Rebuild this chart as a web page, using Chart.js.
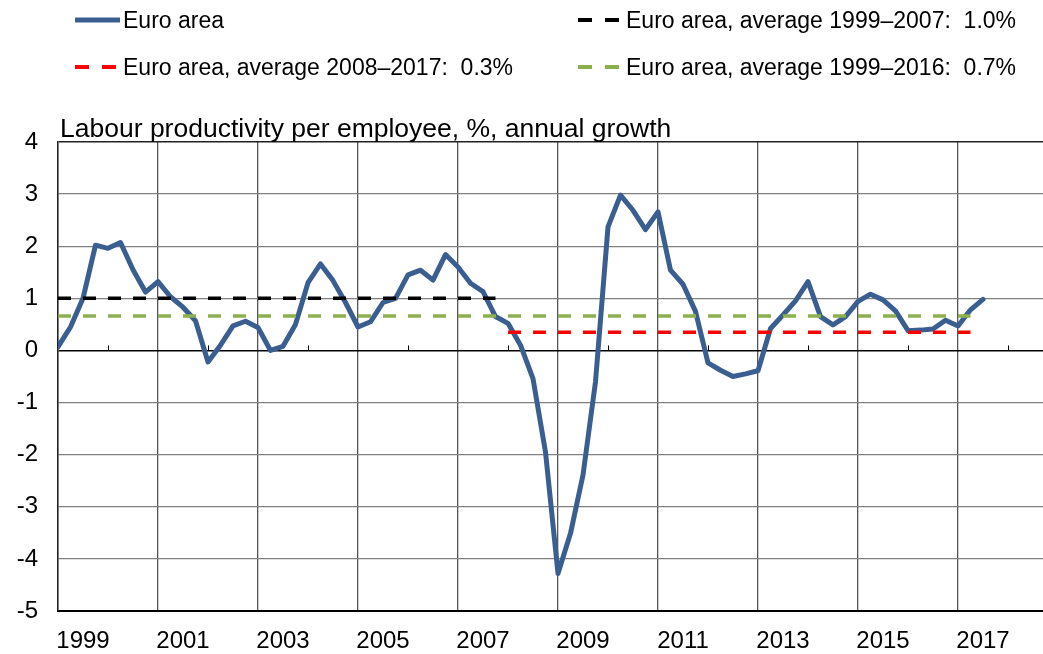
<!DOCTYPE html>
<html>
<head>
<meta charset="utf-8">
<title>Labour productivity per employee</title>
<script src="https://cdn.jsdelivr.net/npm/chart.js@4.4.1/dist/chart.umd.min.js"></script>
<style>
	html, body { margin: 0; padding: 0; background: #fff; }
	#wrap { position: relative; width: 1043px; height: 654px; font-family: "Liberation Sans", Arial, sans-serif; }
	#chart { position: absolute; left: 0; top: 0; }
	#legend { position: absolute; left: 75px; top: 6px; display: grid; grid-template-columns: 503px auto; grid-auto-rows: 28px; row-gap: 19px; }
	.item { display: flex; align-items: center; font-size: 23px; color: #000; white-space: pre; }
	.item svg { margin-right: 3px; }
</style>
</head>
<body>
<div id="wrap">
	<canvas id="chart" width="1043" height="654"></canvas>
	<div id="legend"></div>
</div>
<script>
// 제목, 축 라벨
const chartTitle = 'Labour productivity per employee, %, annual growth';
const yearLabels = ['1999', '2001', '2003', '2005', '2007', '2009', '2011', '2013', '2015', '2017'];
const firstYear = 1999;

// 분기별 유로 지역 노동생산성 증가율 (1999Q1 ~ 2017Q3)
const euroArea = [
	0.07, 0.45, 1.0, 2.02, 1.96, 2.07, 1.55, 1.12,
	1.32, 1.03, 0.83, 0.57, -0.22, 0.1, 0.47, 0.56,
	0.44, 0.0, 0.08, 0.5, 1.3, 1.66, 1.34, 0.92,
	0.45, 0.55, 0.92, 1.0, 1.45, 1.54, 1.35, 1.84,
	1.6, 1.29, 1.13, 0.65, 0.52, 0.1, -0.54, -1.95,
	-4.28, -3.51, -2.39, -0.6, 2.37, 2.98, 2.69, 2.32,
	2.66, 1.54, 1.27, 0.75, -0.24, -0.38, -0.5, -0.45,
	-0.39, 0.42, 0.68, 0.95, 1.32, 0.65, 0.49, 0.65,
	0.94, 1.08, 0.97, 0.76, 0.38, 0.39, 0.41, 0.58,
	0.47, 0.78, 0.98
];

// 기간 평균선
const avgLabels = ['Euro area, average 1999–2007:  1.0%', 'Euro area, average 2008–2017:  0.3%', 'Euro area, average 1999–2016:  0.7%'];
const avgValues = [1.0, 0.35, 0.66];
const avgFrom = ['1999Q1', '2008Q1', '1999Q1'];
const avgTo = ['2007Q4', '2017Q2', '2017Q2'];
const avgColors = ['#000000', '#FF0000', '#8CB04E'];

function quarterIndex(q) {
	const [y, n] = q.split('Q').map(Number);
	return (y - firstYear) * 4 + (n - 1);
}

const datasets = [
	{
		label: 'Euro area',
		data: euroArea.map((v, i) => ({ x: i, y: v })),
		borderColor: '#3B5E91',
		backgroundColor: '#3B5E91',
		borderWidth: 5,
		borderJoinStyle: 'round',
		borderCapStyle: 'round',
		order: 5
	}
];
avgValues.forEach((v, k) => {
	datasets.push({
		label: avgLabels[k],
		data: [{ x: quarterIndex(avgFrom[k]), y: v }, { x: quarterIndex(avgTo[k]), y: v }],
		borderColor: avgColors[k],
		backgroundColor: avgColors[k],
		borderWidth: 3.5,
		borderDash: [13, 12],
		order: 3 - k
	});
});

// 0 선 위 작은 눈금 + 제목
const decor = {
	id: 'decor',
	beforeDatasetsDraw(chart) {
		const { ctx, scales: { x, y } } = chart;
		const y0 = y.getPixelForValue(0);
		ctx.save();
		ctx.strokeStyle = '#000';
		ctx.lineWidth = 1;
		x.ticks.forEach(t => {
			if (t.value % 8 === 4) {
				const px = Math.round(x.getPixelForValue(t.value)) + 0.5;
				ctx.beginPath();
				ctx.moveTo(px, y0);
				ctx.lineTo(px, y0 - 5);
				ctx.stroke();
			}
		});
		ctx.restore();
	},
	afterDraw(chart) {
		const { ctx, chartArea } = chart;
		ctx.save();
		ctx.font = '26.5px "Liberation Sans", Arial, sans-serif';
		ctx.fillStyle = '#000';
		ctx.textAlign = 'left';
		ctx.textBaseline = 'alphabetic';
		ctx.fillText(chartTitle, chartArea.left + 2, chartArea.top - 5);
		ctx.restore();
	}
};

Chart.defaults.font.family = '"Liberation Sans", Arial, sans-serif';
Chart.defaults.color = '#000';

new Chart(document.getElementById('chart'), {
	type: 'line',
	data: { datasets },
	options: {
		responsive: false,
		animation: false,
		layout: { padding: { top: 142, right: 0, bottom: 0, left: 0 } },
		elements: { point: { radius: 0 }, line: { tension: 0 } },
		scales: {
			x: {
				type: 'linear',
				min: 0,
				max: 78.8,
				afterFit: s => {
					s.height = 43;
					s.paddingLeft = 0;
					s.paddingRight = 0;
				},
				grid: {
					drawTicks: false,
					lineWidth: 1.3,
					color: c => (c.tick && c.tick.value > 0 && c.tick.value % 8 === 0) ? '#555' : 'rgba(0,0,0,0)'
				},
				border: { display: true, color: '#000', width: 2 },
				ticks: {
					stepSize: 2,
					autoSkip: false,
					maxRotation: 0,
					padding: 16,
					font: { size: 24 },
					callback: v => {
						const k = (v - 2) / 8;
						return Number.isInteger(k) && yearLabels[k] ? yearLabels[k] : '';
					}
				}
			},
			y: {
				min: -5,
				max: 4,
				afterFit: s => { s.width = 58; },
				grid: {
					drawTicks: false,
					lineWidth: c => (c.tick && (c.tick.value === 0 || c.tick.value === 4)) ? 1.6 : 1.3,
					color: c => {
						if (!c.tick) return '#808080';
						if (c.tick.value === 0) return '#000';
						if (c.tick.value === 4) return '#222';
						return '#808080';
					}
				},
				border: { display: true, color: '#222', width: 1.6 },
				ticks: { stepSize: 1, padding: 20, font: { size: 24 } }
			}
		},
		plugins: {
			legend: { display: false },
			tooltip: { enabled: false }
		}
	},
	plugins: [decor]
});

// HTML 범례 (2열)
const legendOrder = [0, 1, 2, 3];
const legendEl = document.getElementById('legend');
legendOrder.forEach(i => {
	const ds = datasets[i];
	const item = document.createElement('div');
	item.className = 'item';
	const dashed = !!ds.borderDash;
	const sample = dashed
		? `<svg width="45" height="10"><line x1="0" y1="5" x2="42" y2="5" stroke="${ds.borderColor}" stroke-width="4" stroke-dasharray="14 13"/></svg>`
		: `<svg width="45" height="10"><line x1="0" y1="5" x2="45" y2="5" stroke="${ds.borderColor}" stroke-width="5"/></svg>`;
	item.innerHTML = sample + '<span></span>';
	item.querySelector('span').textContent = ds.label;
	legendEl.appendChild(item);
});
</script>
</body>
</html>
